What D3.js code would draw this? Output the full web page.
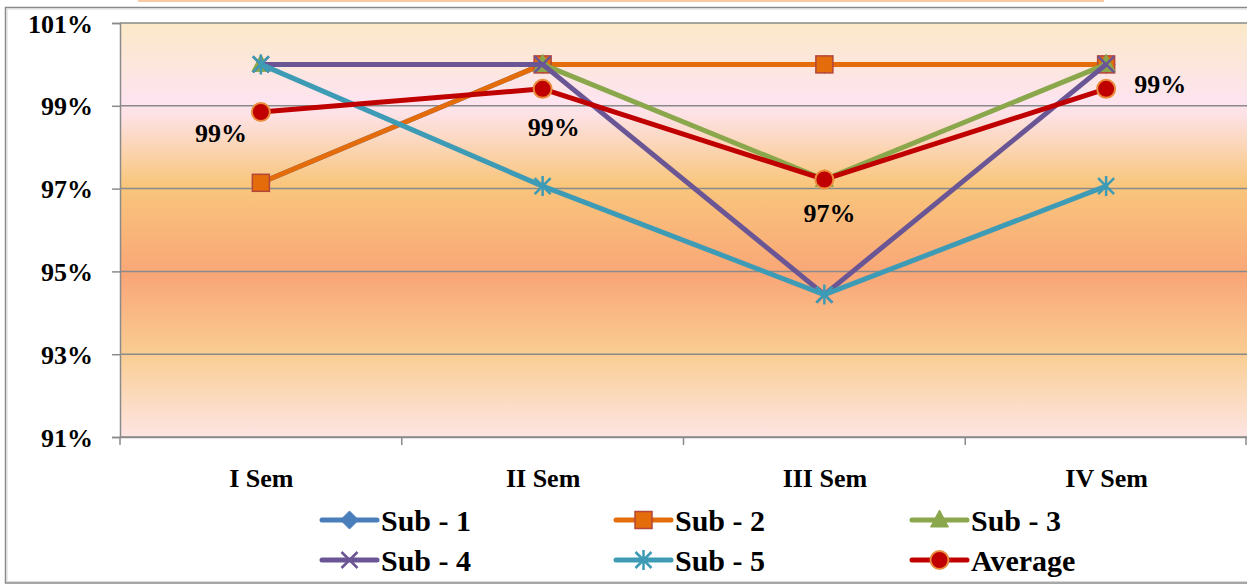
<!DOCTYPE html>
<html><head><meta charset="utf-8">
<script src="https://cdn.jsdelivr.net/npm/d3@7"></script>
<style>
html,body{margin:0;padding:0;background:#fff;}
svg{display:block;}
text{font-family:"Liberation Serif","DejaVu Serif",serif;font-weight:bold;fill:#000;}
</style></head>
<body>
<script>
const categories = ["I Sem", "II Sem", "III Sem", "IV Sem"];
const seriesNames = ["Sub - 1", "Sub - 2", "Sub - 3", "Sub - 4", "Sub - 5", "Average"];
const sub1 = [97.14, 100, 100, 100];
const sub2 = [97.14, 100, 100, 100];
const sub3 = [100, 100, 97.22, 100];
const sub4 = [100, 100, 94.44, 100];
const sub5 = [100, 97.06, 94.44, 97.06];
const average = [98.85, 99.41, 97.22, 99.41];
const averageLabels = ["99%", "99%", "97%", "99%"];
const yTicks = [91, 93, 95, 97, 99, 101];
const yTickLabels = ["91%", "93%", "95%", "97%", "99%", "101%"];

const W = 1247, H = 584;
const svg = d3.select("body").append("svg").attr("width", W).attr("height", H);

// title remnant & frame
svg.append("rect").attr("x", 138).attr("y", 0).attr("width", 966).attr("height", 2).attr("fill", "#f9c9a0");
svg.append("rect").attr("x", 5.5).attr("y", 7.5).attr("width", 1260).attr("height", 575.5)
  .attr("fill", "#fff").attr("stroke", "#8a8a8a").attr("stroke-width", 1.5);
svg.append("rect").attr("x", 7).attr("y", 9).attr("width", 1260).attr("height", 572.5)
  .attr("fill", "none").attr("stroke", "#d8d8d8").attr("stroke-width", 1);

const plot = {l: 120, r: 1247, t: 23, b: 437};
const x = d3.scalePoint().domain(categories).range([plot.l, plot.r]).padding(0.5);
const xb = d3.scaleBand().domain(categories).range([plot.l, plot.r]);
const y = d3.scaleLinear().domain([91, 101]).range([plot.b, plot.t]);

// background gradient
const defs = svg.append("defs");
const g = defs.append("linearGradient").attr("id", "bg").attr("x1", 0).attr("y1", 0).attr("x2", 0).attr("y2", 1);
[[0, "#fbe9c8"], [0.19, "#fde4ef"], [0.22, "#fde2e6"], [0.39, "#f9c67c"], [0.61, "#f9a677"], [0.8, "#f9cd93"], [1, "#fde5e3"]]
  .forEach(([o, c]) => g.append("stop").attr("offset", o).attr("stop-color", c));
svg.append("rect").attr("x", plot.l).attr("y", plot.t).attr("width", plot.r - plot.l).attr("height", plot.b - plot.t).attr("fill", "url(#bg)");

// gridlines
svg.append("g").selectAll("line").data(yTicks).join("line")
  .attr("x1", plot.l).attr("x2", plot.r).attr("y1", d => y(d)).attr("y2", d => y(d))
  .attr("stroke", "#8a8a8a").attr("stroke-width", 1.5);

// y axis
const yAxis = svg.append("g").attr("transform", `translate(${plot.l},0)`)
  .call(d3.axisLeft(y).tickValues(yTicks).tickSize(8).tickPadding(19).tickFormat((d, i) => yTickLabels[i]));
yAxis.select(".domain").attr("stroke", "#8a8a8a").attr("stroke-width", 1.5);
yAxis.selectAll(".tick line").attr("stroke", "#8a8a8a").attr("stroke-width", 1.5);
yAxis.selectAll("text").style("font-size", "26px").attr("font-family", null).attr("dy", "0.35em");

// x axis
const xAxis = svg.append("g").attr("transform", `translate(0,${plot.b})`)
  .call(d3.axisBottom(x).tickSize(0).tickPadding(32));
xAxis.select(".domain").attr("stroke", "#8a8a8a").attr("stroke-width", 1.5);
xAxis.selectAll("text").style("font-size", "26px").attr("font-family", null);
const bounds = categories.map(c => xb(c)).concat([xb(categories[3]) + xb.bandwidth()]);
svg.append("g").selectAll("line").data(bounds).join("line")
  .attr("x1", d => Math.min(d, plot.r - 1)).attr("x2", d => Math.min(d, plot.r - 1))
  .attr("y1", plot.b).attr("y2", plot.b + 8).attr("stroke", "#8a8a8a").attr("stroke-width", 1.5);

const series = [
  {name: seriesNames[0], values: sub1, color: "#4a7ebb", marker: "diamond"},
  {name: seriesNames[1], values: sub2, color: "#e46c0a", marker: "square"},
  {name: seriesNames[2], values: sub3, color: "#8aa74c", marker: "triangle"},
  {name: seriesNames[3], values: sub4, color: "#6b5695", marker: "x"},
  {name: seriesNames[4], values: sub5, color: "#3e9bb5", marker: "star"},
  {name: seriesNames[5], values: average, color: "#c00000", marker: "circle"}
];

function drawMarker(sel, s) {
  if (s.marker === "diamond") {
    sel.append("path").attr("d", "M0,-9L9,0L0,9L-9,0Z").attr("fill", s.color).attr("stroke", s.color);
  } else if (s.marker === "square") {
    sel.append("rect").attr("x", -8.5).attr("y", -8.5).attr("width", 17).attr("height", 17)
      .attr("fill", s.color).attr("stroke", "#b4463a").attr("stroke-width", 1.5);
  } else if (s.marker === "triangle") {
    sel.append("path").attr("d", "M0,-10L9,7L-9,7Z").attr("fill", s.color).attr("stroke", s.color);
  } else if (s.marker === "x") {
    sel.append("path").attr("d", "M-8,-8L8,8M-8,8L8,-8").attr("stroke", s.color).attr("stroke-width", 2.5).attr("fill", "none");
  } else if (s.marker === "star") {
    sel.append("path").attr("d", "M-8,-8L8,8M-8,8L8,-8M0,-10L0,10").attr("stroke", s.color).attr("stroke-width", 2.5).attr("fill", "none");
  } else if (s.marker === "circle") {
    sel.append("circle").attr("r", 9).attr("fill", s.color).attr("stroke", "#ea8c3c").attr("stroke-width", 2);
  }
}

const line = d3.line().x((d, i) => x(categories[i])).y(d => y(d));
series.forEach(s => {
  const gs = svg.append("g");
  gs.append("path").datum(s.values).attr("d", line).attr("fill", "none")
    .attr("stroke", s.color).attr("stroke-width", 5).attr("stroke-linejoin", "round");
  s.values.forEach((v, i) => {
    const m = gs.append("g").attr("transform", `translate(${x(categories[i])},${y(v)})`);
    drawMarker(m, s);
  });
});

// data labels for Average
const labelOffsets = [[-40, 21], [11, 38], [5, 33], [54, -5]];
svg.append("g").selectAll("text").data(average).join("text")
  .attr("x", (d, i) => x(categories[i]) + labelOffsets[i][0])
  .attr("y", (d, i) => y(d) + labelOffsets[i][1])
  .attr("dy", "0.35em").attr("text-anchor", "middle").style("font-size", "26px")
  .text((d, i) => averageLabels[i]);

// legend
const legendPos = [[322, 520], [616, 520], [912, 520], [322, 560], [616, 560], [912, 560]];
series.forEach((s, i) => {
  const [lx, ly] = legendPos[i];
  const lg = svg.append("g").attr("transform", `translate(${lx},${ly})`);
  lg.append("line").attr("x1", 0).attr("x2", 55).attr("y1", 0).attr("y2", 0)
    .attr("stroke", s.color).attr("stroke-width", 5).attr("stroke-linecap", "round");
  const m = lg.append("g").attr("transform", "translate(27.5,0)");
  drawMarker(m, s);
  lg.append("text").attr("x", 59).attr("y", 0).attr("dy", "0.35em").style("font-size", "30px").text(s.name);
});
</script>
</body></html>
